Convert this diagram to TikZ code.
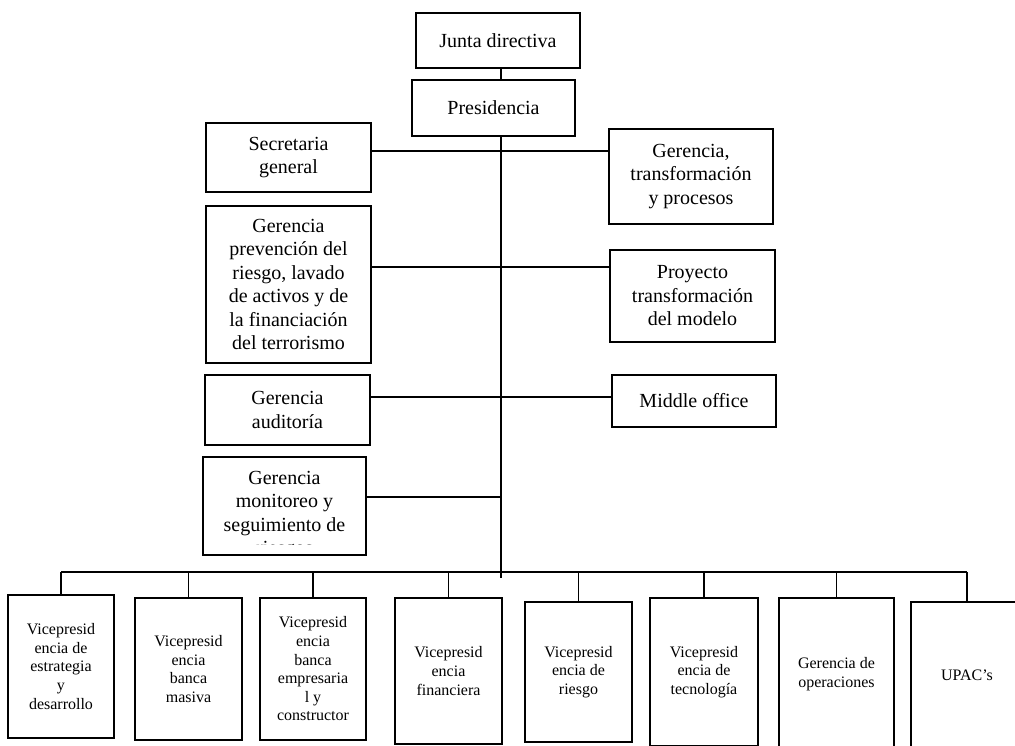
\documentclass[tikz,border=0pt]{standalone}
\usepackage{fontspec}
\setmainfont{Liberation Serif}
\newcommand{\boxfont}{\fontsize{20}{23.5}\selectfont}
\newcommand{\vpfont}{\fontsize{16}{18.6}\selectfont}
\usepackage{tikz}
\usetikzlibrary{positioning}

\begin{document}
\begin{tikzpicture}[x=1pt,y=-1pt,
  box/.style={draw,line width=1.3pt,fill=white,align=center,font=\boxfont,inner sep=2pt},
  vpbox/.style={draw,line width=1.3pt,fill=white,align=center,font=\vpfont,inner sep=2pt},
  link/.style={line width=1.3pt}]
\clip (0,0) rectangle (1015,745);
\fill [white] (0,0) rectangle (1015,745);

% top of the chart
\node [box,minimum width=164,minimum height=55] (junta) at (498,40.5) {Junta directiva};
\node [box,minimum width=163,minimum height=56] (pres) at (493.5,108) {Presidencia};
\coordinate (trunk) at (501,578);
\coordinate (bar) at (501,572);

% left and right staff units
\node [box,minimum width=165,minimum height=69] (sec) at (288.5,157.5) {Secretaria\\ general};
\node [box,minimum width=164,minimum height=95] (gtp) at (691,176.5) {Gerencia,\\ transformación\\ y procesos};
\node [box,minimum width=165,minimum height=157] (prev) at (288.5,284.5) {Gerencia\\ prevención del\\ riesgo, lavado\\ de activos y de\\ la financiación\\ del terrorismo};
\node [box,minimum width=165,minimum height=92] (proy) at (692.5,296) {Proyecto\\ transformación\\ del modelo};
\node [box,minimum width=165,minimum height=70] (aud) at (287.5,410) {Gerencia\\ auditoría};
\node [box,minimum width=164,minimum height=52] (mid) at (694,401) {Middle office};
\node [box,minimum width=163,minimum height=98] (mon) at (284.5,506) {};
\begin{scope}
  \clip (mon.north west) rectangle (mon.east |- 0,544);
  \node [anchor=north,align=center,font=\boxfont] at ([yshift=-11pt]mon.north) {Gerencia\\ monitoreo y\\ seguimiento de\\ riesgos};
\end{scope}

% vice presidencies
\node [vpbox,minimum width=106,minimum height=143] (vp1) at (61,666.5) {Vicepresid\\ encia de\\ estrategia\\ y\\ desarrollo};
\node [vpbox,minimum width=107,minimum height=142] (vp2) at (188.5,669) {Vicepresid\\ encia\\ banca\\ masiva};
\node [vpbox,minimum width=106,minimum height=142] (vp3) at (313,669) {Vicepresid\\ encia\\ banca\\ empresaria\\ l y\\ constructor};
\node [vpbox,minimum width=107,minimum height=146] (vp4) at (448.5,671) {Vicepresid\\ encia\\ financiera};
\node [vpbox,minimum width=107,minimum height=140] (vp5) at (578.5,672) {Vicepresid\\ encia de\\ riesgo};
\node [vpbox,minimum width=108,minimum height=148] (vp6) at (704,672) {Vicepresid\\ encia de\\ tecnología};
\node [vpbox,minimum width=115,minimum height=152] (gop) at (836.5,674) {Gerencia de\\ operaciones};
\node [vpbox,minimum width=112,minimum height=146] (upac) at (967,675) {UPAC’s};

% connectors
\draw [link] (junta.south -| trunk) -- (pres.north -| trunk);
\draw [link] (pres.south -| trunk) -- (trunk);
\draw [link] (sec.east |- 0,151) -- (gtp.west |- 0,151);
\draw [link] (prev.east |- 0,267) -- (proy.west |- 0,267);
\draw [link] (aud.east |- 0,397) -- (mid.west |- 0,397);
\draw [link] (mon.east |- 0,497) -- (trunk |- 0,497);
\draw [link] (vp1.north |- bar) -- (upac.north |- bar);
\foreach \n in {vp1,vp2,vp3,vp4,vp5,vp6,gop,upac}
  \draw [link] (\n.north |- bar) -- (\n.north);
\end{tikzpicture}
\end{document}
